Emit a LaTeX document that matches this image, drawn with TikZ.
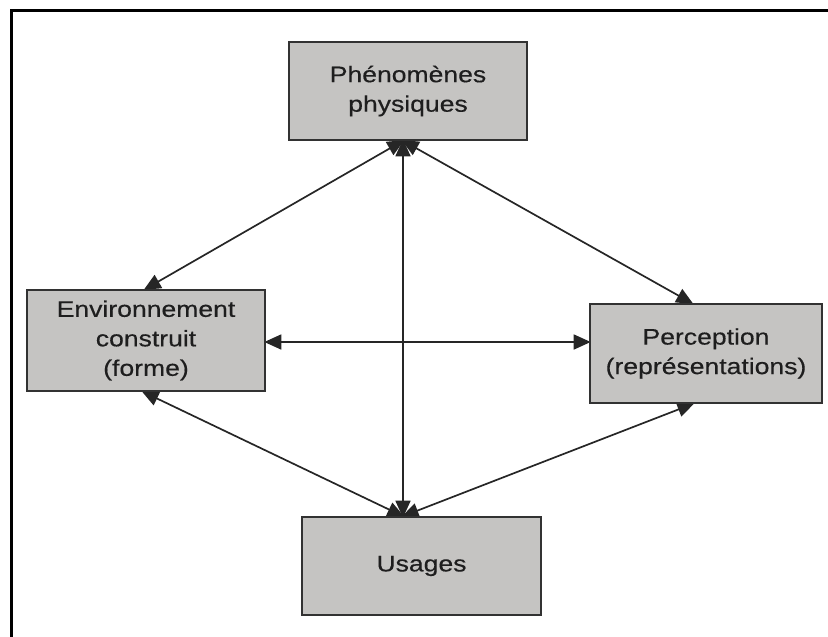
\documentclass[tikz,border=0pt]{standalone}
\usepackage{fontspec}
\setmainfont[FakeStretch=1.18,FakeBold=0.4]{Liberation Sans}
\usetikzlibrary{arrows.meta,calc,backgrounds}
\definecolor{boxfill}{RGB}{197,196,194}
\definecolor{boxline}{RGB}{50,50,50}
\definecolor{txt}{RGB}{30,30,30}
\tikzset{
  stepbox/.style={draw=boxline, line width=1.6pt, fill=boxfill, inner sep=0pt,
    align=center, text=txt, font=\fontsize{22.5}{29.5}\selectfont},
  link/.style={line width=1.7pt, draw=black!85,
    {Triangle[length=17pt,width=15pt]}-{Triangle[length=17pt,width=15pt]},
    shorten <=-1.5pt, shorten >=-1.5pt}
}
\begin{document}
\begin{tikzpicture}[x=1pt,y=-1pt]
\useasboundingbox (0,0) rectangle (828,637);
\draw[line width=3pt, line cap=butt] (830,10.5) -- (11.5,10.5) -- (11.5,640);
\node[stepbox, minimum width=238pt, minimum height=98pt] (phen) at (408,91) {Phénomènes\\physiques};
\node[stepbox, minimum width=238pt, minimum height=101pt] (env) at (146,340.5) {Environnement\\construit\\(forme)};
\node[stepbox, minimum width=232pt, minimum height=99pt] (perc) at (706,353.5) {Perception\\(représentations)};
\node[stepbox, minimum width=239pt, minimum height=98pt] (usa) at (421.5,566) {Usages};
\begin{pgfonlayer}{background}
\coordinate (pt) at ($(phen.south)+(-5,0)$);
\coordinate (ub) at ($(usa.north)+(-18.5,0)$);
\draw[link] (pt) -- ($(env.north)+(-1,0)$);
\draw[link] (pt) -- ($(perc.north)+(-14,0)$);
\draw[link] (pt) -- (ub);
\draw[link] ($(env.east)+(0,1.5)$) -- ($(perc.west)+(0,-11.5)$);
\draw[link] ($(env.south)+(-3,0)$) -- (ub);
\draw[link] ($(perc.south)+(-13,0)$) -- (ub);
\end{pgfonlayer}
\end{tikzpicture}
\end{document}
